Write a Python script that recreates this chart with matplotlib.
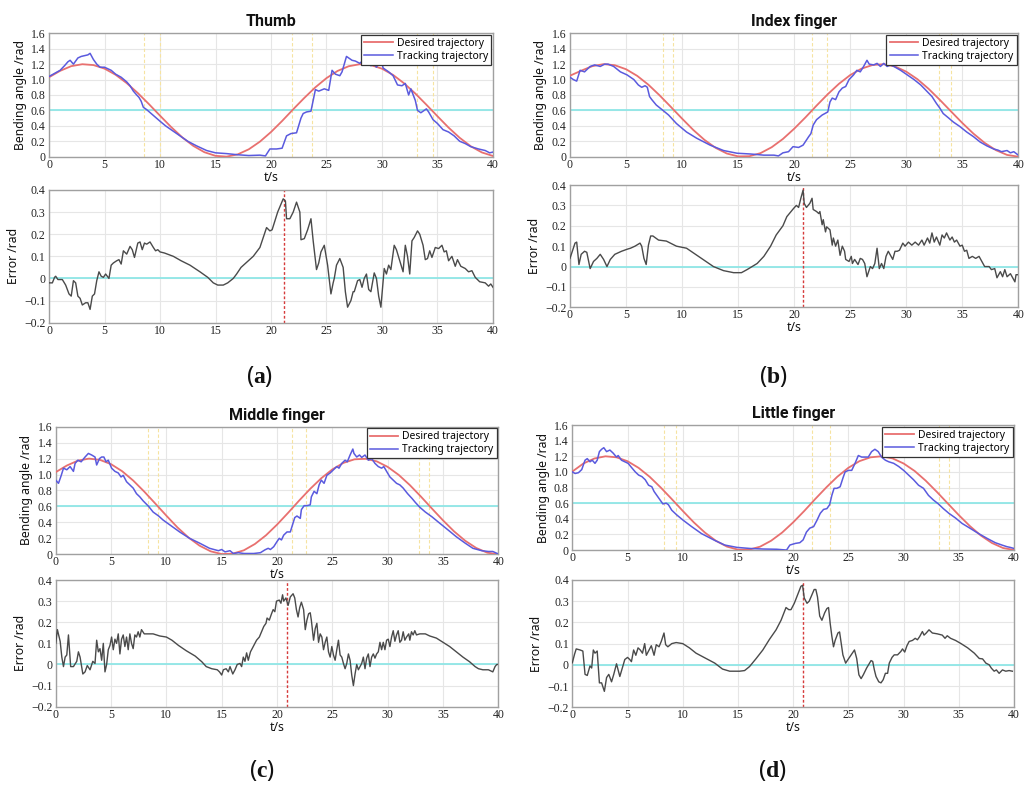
import numpy as np
import matplotlib
matplotlib.use("Agg")
import matplotlib.pyplot as plt

plt.rcParams['font.family'] = ['Noto Sans', 'DejaVu Sans']
plt.rcParams['mathtext.fontset'] = 'custom'
plt.rcParams['mathtext.rm'] = 'Liberation Serif'
plt.rcParams['mathtext.bf'] = 'Liberation Serif:bold'
plt.rcParams['axes.unicode_minus'] = True

# ---------------------------------------------------------------- data
t_des = list(range(41))

des_thumb = [1.030, 1.113, 1.174, 1.199, 1.188, 1.142, 1.062, 0.954, 0.825, 0.682,
             0.532, 0.385, 0.251, 0.140, 0.058, 0.011, 0.001, 0.030, 0.096, 0.195,
             0.320, 0.463, 0.615, 0.762, 0.900, 1.019, 1.112, 1.173, 1.199, 1.188,
             1.141, 1.060, 0.950, 0.819, 0.674, 0.524, 0.377, 0.245, 0.135, 0.055,
             0.009]
des_index = [1.050, 1.115, 1.174, 1.200, 1.186, 1.134, 1.048, 0.933, 0.795, 0.646,
             0.494, 0.347, 0.218, 0.114, 0.041, 0.004, 0.006, 0.046, 0.123, 0.230,
             0.362, 0.508, 0.662, 0.810, 0.945, 1.058, 1.141, 1.189, 1.199, 1.170,
             1.103, 1.005, 0.880, 0.737, 0.587, 0.438, 0.299, 0.179, 0.085, 0.023,
             0.000]
des_middle = [1.030, 1.113, 1.174, 1.200, 1.184, 1.130, 1.042, 0.925, 0.786, 0.636,
              0.484, 0.337, 0.210, 0.108, 0.037, 0.003, 0.008, 0.050, 0.129, 0.238,
              0.372, 0.520, 0.674, 0.821, 0.954, 1.065, 1.146, 1.191, 1.198, 1.166,
              1.096, 0.995, 0.868, 0.724, 0.573, 0.425, 0.287, 0.170, 0.079, 0.020,
              0.000]
des_little = [1.005, 1.108, 1.172, 1.200, 1.187, 1.137, 1.052, 0.938, 0.801, 0.653,
              0.501, 0.354, 0.224, 0.118, 0.044, 0.005, 0.005, 0.043, 0.119, 0.224,
              0.355, 0.500, 0.654, 0.802, 0.939, 1.053, 1.138, 1.187, 1.200, 1.173,
              1.108, 1.012, 0.888, 0.746, 0.596, 0.447, 0.307, 0.185, 0.090, 0.026,
              0.001]

thumb_track = [(0, 1.04), (0.5, 1.08), (1.0, 1.12), (1.4, 1.18), (1.7, 1.23), (1.9, 1.25),
               (2.2, 1.20), (2.6, 1.28), (2.9, 1.30), (3.2, 1.31), (3.5, 1.32), (3.7, 1.34),
               (4.0, 1.26), (4.3, 1.20), (4.6, 1.16), (5.0, 1.16), (5.3, 1.14), (5.6, 1.12),
               (6.0, 1.07), (6.5, 1.03), (7.0, 0.97), (7.3, 0.92), (7.6, 0.85), (7.9, 0.80),
               (8.1, 0.77), (8.3, 0.72), (8.5, 0.64), (8.8, 0.61), (9.2, 0.56), (9.6, 0.51),
               (10.0, 0.46), (10.5, 0.40), (11.2, 0.33), (11.8, 0.27), (12.5, 0.20),
               (13.3, 0.14), (14.2, 0.08), (15.0, 0.05), (16.0, 0.04), (17.0, 0.025),
               (18.0, 0.015), (19.0, 0.02), (19.5, 0.01), (19.9, 0.10), (20.5, 0.10),
               (21.0, 0.11), (21.4, 0.27), (21.8, 0.30), (22.3, 0.31), (22.7, 0.50),
               (22.9, 0.56), (23.2, 0.58), (23.6, 0.59), (24.0, 0.87), (24.3, 0.85),
               (24.8, 0.88), (25.2, 0.86), (25.5, 1.12), (25.8, 1.07), (26.2, 1.05),
               (26.4, 1.10), (26.8, 1.30), (27.3, 1.25), (27.6, 1.24), (28.0, 1.21),
               (28.3, 1.25), (28.7, 1.20), (29.0, 1.18), (29.3, 1.20), (29.5, 1.16),
               (29.9, 1.27), (30.1, 1.15), (30.6, 1.10), (31.0, 1.05), (31.4, 0.93),
               (31.8, 0.92), (32.1, 0.95), (32.4, 0.80), (32.6, 0.88), (33.0, 0.73),
               (33.2, 0.60), (33.5, 0.57), (34.0, 0.62), (34.2, 0.58), (34.6, 0.48),
               (35.0, 0.43), (35.5, 0.35), (36.0, 0.32), (36.5, 0.27), (37.0, 0.20),
               (37.5, 0.17), (38.0, 0.13), (38.7, 0.10), (39.3, 0.08), (39.7, 0.05),
               (40.0, 0.06)]

thumb_err = [(0, -0.02), (0.3, -0.02), (0.5, 0.005), (0.6, 0.01), (0.8, -0.005), (1.2, -0.005),
             (1.5, -0.03), (1.8, -0.07), (2.0, -0.08), (2.2, -0.01), (2.4, -0.02), (2.6, -0.08),
             (2.8, -0.09), (3.0, -0.12), (3.3, -0.11), (3.5, -0.11), (3.7, -0.14), (3.9, -0.08),
             (4.1, -0.07), (4.3, -0.01), (4.5, 0.03), (4.7, 0.01), (4.9, 0.005), (5.1, 0.02),
             (5.4, 0.0), (5.6, 0.06), (5.8, 0.07), (6.1, 0.08), (6.3, 0.085), (6.5, 0.065),
             (6.7, 0.125), (7.0, 0.11), (7.3, 0.145), (7.5, 0.13), (7.7, 0.095), (8.0, 0.16),
             (8.2, 0.165), (8.4, 0.13), (8.6, 0.16), (8.8, 0.155), (9.1, 0.165), (9.4, 0.14),
             (9.6, 0.125), (9.8, 0.13), (10.0, 0.12), (10.4, 0.115), (11.2, 0.10), (11.9, 0.08),
             (12.7, 0.06), (13.6, 0.03), (14.3, 0.005), (14.8, -0.02), (15.2, -0.03),
             (15.7, -0.03), (16.1, -0.02), (16.6, 0.0), (16.9, 0.02), (17.3, 0.05), (18.4, 0.10),
             (19.0, 0.14), (19.4, 0.20), (19.6, 0.23), (19.9, 0.215), (20.1, 0.22), (20.6, 0.30),
             (21.1, 0.36), (21.3, 0.35), (21.4, 0.27), (21.7, 0.27), (22.0, 0.30), (22.3, 0.345),
             (22.6, 0.30), (22.7, 0.175), (23.0, 0.18), (23.3, 0.22), (23.6, 0.27), (23.8, 0.17),
             (24.1, 0.04), (24.3, 0.07), (24.5, 0.12), (24.8, 0.15), (25.1, 0.06), (25.4, -0.07),
             (25.6, -0.02), (25.7, 0.0), (25.9, 0.06), (26.2, 0.09), (26.5, 0.05), (26.7, -0.06),
             (26.9, -0.13), (27.2, -0.10), (27.4, -0.06), (27.5, -0.06), (27.8, -0.01),
             (28.0, -0.005), (28.2, -0.04), (28.4, 0.0), (28.6, 0.02), (28.8, -0.05),
             (29.0, -0.06), (29.3, 0.025), (29.5, 0.0), (29.7, -0.08), (29.9, -0.13),
             (30.2, 0.045), (30.4, 0.02), (30.6, 0.06), (30.8, 0.04), (31.1, 0.15), (31.3, 0.13),
             (31.6, 0.08), (31.9, 0.03), (32.1, 0.15), (32.3, 0.10), (32.5, 0.02), (32.7, 0.17),
             (32.9, 0.185), (33.2, 0.215), (33.4, 0.20), (33.7, 0.15), (33.9, 0.085),
             (34.1, 0.09), (34.3, 0.125), (34.5, 0.095), (34.8, 0.14), (35.1, 0.135),
             (35.4, 0.15), (35.6, 0.12), (35.8, 0.125), (36.0, 0.08), (36.3, 0.10),
             (36.6, 0.055), (36.8, 0.085), (37.1, 0.055), (37.5, 0.045), (37.8, 0.03),
             (38.1, 0.035), (38.4, 0.005), (38.8, -0.015), (39.3, -0.02), (39.6, -0.035),
             (39.8, -0.025), (40.0, -0.04)]

index_track = [(0, 1.03), (0.3, 1.00), (0.6, 0.98), (0.9, 1.12), (1.3, 1.10), (1.8, 1.17),
               (2.2, 1.19), (2.7, 1.17), (3.1, 1.20), (3.4, 1.20), (3.9, 1.17), (4.5, 1.10),
               (5.1, 1.06), (5.7, 1.00), (6.1, 0.93), (6.4, 0.90), (6.7, 0.92), (6.9, 0.90),
               (7.1, 0.78), (7.3, 0.74), (7.7, 0.67), (8.3, 0.60), (8.8, 0.54), (9.5, 0.43),
               (10.4, 0.32), (11.3, 0.24), (12.5, 0.15), (13.7, 0.08), (14.9, 0.045),
               (16.1, 0.035), (17.3, 0.02), (18.2, 0.02), (18.6, 0.01), (19.0, 0.05),
               (19.5, 0.065), (19.9, 0.13), (20.4, 0.12), (20.8, 0.15), (21.3, 0.26),
               (21.5, 0.30), (21.7, 0.41), (22.0, 0.48), (22.5, 0.54), (23.0, 0.58),
               (23.2, 0.71), (23.4, 0.76), (23.7, 0.74), (24.0, 0.84), (24.3, 0.89),
               (24.6, 0.91), (24.9, 1.00), (25.3, 1.06), (25.6, 1.12), (25.9, 1.10),
               (26.2, 1.17), (26.5, 1.25), (26.7, 1.20), (27.1, 1.19), (27.4, 1.21),
               (27.7, 1.17), (28.0, 1.21), (28.3, 1.17), (28.6, 1.19), (28.9, 1.17),
               (29.5, 1.12), (30.1, 1.06), (30.7, 1.00), (31.3, 0.93), (31.9, 0.84),
               (32.3, 0.78), (32.7, 0.69), (33.0, 0.63), (33.3, 0.56), (33.8, 0.50),
               (34.2, 0.45), (34.8, 0.39), (35.4, 0.32), (36.0, 0.26), (36.6, 0.19),
               (37.2, 0.14), (37.8, 0.10), (38.2, 0.085), (38.5, 0.065), (39.0, 0.08),
               (39.3, 0.05), (39.6, 0.065), (40.0, 0.02)]

index_err = [(0, 0.04), (0.45, 0.115), (0.6, 0.12), (0.8, 0.01), (1.0, 0.06), (1.3, 0.075),
             (1.5, 0.07), (1.8, -0.01), (2.1, 0.025), (2.4, 0.04), (2.7, 0.06), (3.0, 0.035),
             (3.3, 0.0), (3.6, 0.035), (4.0, 0.06), (4.6, 0.075), (5.1, 0.085), (5.4, 0.09),
             (5.8, 0.10), (6.25, 0.115), (6.4, 0.10), (6.6, 0.04), (6.8, 0.01), (7.0, 0.105),
             (7.2, 0.15), (7.4, 0.15), (7.9, 0.13), (8.6, 0.125), (9.5, 0.10), (10.4, 0.09),
             (11.6, 0.045), (12.8, 0.0), (13.7, -0.02), (14.6, -0.03), (15.3, -0.03),
             (15.8, -0.015), (16.7, 0.015), (17.3, 0.05), (17.9, 0.10), (18.4, 0.155),
             (19.0, 0.20), (19.35, 0.245), (19.95, 0.285), (20.2, 0.30), (20.4, 0.29),
             (20.6, 0.335), (20.8, 0.375), (20.9, 0.31), (21.1, 0.29), (21.4, 0.31),
             (21.6, 0.335), (21.7, 0.28), (22.0, 0.27), (22.2, 0.26), (22.3, 0.27),
             (22.5, 0.205), (22.6, 0.23), (22.8, 0.17), (22.9, 0.195), (23.2, 0.18),
             (23.4, 0.105), (23.5, 0.14), (23.7, 0.10), (23.9, 0.13), (24.1, 0.055),
             (24.3, 0.10), (24.5, 0.075), (24.6, 0.035), (24.9, 0.025), (25.1, 0.05),
             (25.2, 0.015), (25.4, 0.035), (25.7, 0.01), (25.9, 0.04), (26.1, 0.035),
             (26.3, 0.015), (26.5, -0.05), (26.8, 0.0), (27.0, -0.01), (27.2, 0.015),
             (27.4, 0.09), (27.6, -0.01), (27.8, 0.015), (28.0, -0.01), (28.2, 0.05),
             (28.4, 0.075), (28.6, 0.055), (28.8, 0.035), (29.0, 0.075), (29.2, 0.075),
             (29.4, 0.08), (29.7, 0.115), (29.9, 0.10), (30.2, 0.12), (30.5, 0.105),
             (30.8, 0.12), (31.1, 0.105), (31.4, 0.13), (31.6, 0.105), (31.9, 0.14),
             (32.1, 0.115), (32.3, 0.165), (32.5, 0.12), (32.7, 0.145), (33.0, 0.105),
             (33.2, 0.155), (33.4, 0.14), (33.6, 0.165), (33.9, 0.13), (34.1, 0.145),
             (34.3, 0.12), (34.5, 0.13), (34.8, 0.10), (35.0, 0.105), (35.2, 0.075),
             (35.4, 0.08), (35.6, 0.04), (35.9, 0.05), (36.2, 0.04), (36.5, 0.05),
             (36.8, 0.02), (37.0, 0.0), (37.4, 0.0), (37.6, -0.015), (37.9, -0.01),
             (38.1, -0.055), (38.4, -0.025), (38.6, -0.05), (38.8, -0.015), (39.0, -0.05),
             (39.3, -0.035), (39.5, -0.055), (39.7, -0.075), (39.8, -0.04), (40.0, -0.04)]

middle_track = [(0, 0.93), (0.25, 0.89), (0.5, 0.99), (0.7, 1.08), (1.0, 1.06), (1.3, 1.10),
                (1.6, 1.04), (1.75, 1.14), (2.0, 1.18), (2.3, 1.16), (2.65, 1.22), (2.95, 1.265),
                (3.25, 1.245), (3.55, 1.22), (3.7, 1.12), (3.95, 1.20), (4.15, 1.22),
                (4.35, 1.22), (4.55, 1.16), (4.75, 1.18), (5.05, 1.08), (5.35, 1.04),
                (5.65, 1.02), (5.9, 0.97), (6.1, 0.99), (6.4, 0.91), (6.7, 0.87), (7.0, 0.83),
                (7.3, 0.76), (7.6, 0.72), (7.9, 0.67), (8.4, 0.60), (8.8, 0.53), (9.3, 0.48),
                (9.7, 0.43), (10.3, 0.37), (11.2, 0.28), (12.1, 0.20), (13.0, 0.14),
                (13.9, 0.075), (14.7, 0.045), (15.0, 0.06), (15.3, 0.03), (15.75, 0.045),
                (16.05, 0.01), (16.5, 0.02), (17.0, 0.01), (17.9, 0.01), (18.5, 0.02),
                (18.9, 0.055), (19.2, 0.075), (19.4, 0.06), (19.7, 0.095), (20.0, 0.16),
                (20.2, 0.20), (20.4, 0.18), (20.6, 0.24), (20.9, 0.28), (21.2, 0.28),
                (21.4, 0.37), (21.6, 0.46), (21.8, 0.48), (22.1, 0.45), (22.2, 0.56),
                (22.45, 0.61), (22.7, 0.61), (23.0, 0.62), (23.1, 0.72), (23.35, 0.79),
                (23.6, 0.76), (23.8, 0.87), (24.0, 0.93), (24.25, 0.89), (24.5, 0.99),
                (24.8, 1.02), (25.1, 1.06), (25.4, 1.10), (25.6, 1.08), (25.85, 1.14),
                (26.15, 1.18), (26.35, 1.16), (26.6, 1.245), (26.85, 1.32), (26.95, 1.265),
                (27.2, 1.22), (27.45, 1.245), (27.65, 1.215), (27.95, 1.245), (28.25, 1.18),
                (28.55, 1.20), (28.85, 1.14), (29.15, 1.10), (29.45, 1.08), (29.65, 1.10),
                (29.9, 1.04), (30.2, 0.97), (30.5, 0.93), (30.8, 0.89), (31.1, 0.87),
                (31.4, 0.83), (31.8, 0.76), (32.2, 0.70), (32.5, 0.65), (32.9, 0.59),
                (33.4, 0.53), (34.0, 0.47), (34.7, 0.39), (35.5, 0.30), (36.2, 0.22),
                (37.0, 0.14), (37.7, 0.075), (38.5, 0.045), (39.1, 0.035), (39.5, 0.035),
                (39.9, 0.01), (40.0, 0.005)]

middle_err = [(0, 0.10), (0.15, 0.165), (0.4, 0.11), (0.55, 0.035), (0.7, -0.01), (0.85, 0.035),
              (1.0, 0.045), (1.15, 0.14), (1.35, -0.01), (1.6, -0.01), (1.9, 0.015),
              (2.05, 0.06), (2.2, 0.035), (2.45, -0.045), (2.65, -0.035), (2.85, -0.005),
              (3.1, -0.025), (3.35, 0.015), (3.55, 0.005), (3.7, 0.115), (3.85, 0.06),
              (4.0, 0.075), (4.15, 0.02), (4.3, 0.10), (4.45, -0.035), (4.6, 0.0), (4.75, 0.07),
              (4.9, 0.09), (5.05, 0.13), (5.2, 0.07), (5.35, 0.12), (5.5, 0.10), (5.65, 0.145),
              (5.8, 0.05), (5.95, 0.12), (6.1, 0.14), (6.25, 0.085), (6.4, 0.13), (6.55, 0.07),
              (6.7, 0.145), (6.85, 0.10), (7.0, 0.075), (7.15, 0.14), (7.3, 0.13),
              (7.45, 0.155), (7.6, 0.13), (7.75, 0.165), (8.0, 0.145), (8.4, 0.145),
              (8.8, 0.145), (9.4, 0.135), (10.0, 0.13), (10.5, 0.115), (11.1, 0.09),
              (11.8, 0.065), (12.6, 0.04), (13.2, 0.013), (13.6, -0.01), (14.1, -0.02),
              (14.6, -0.025), (14.8, -0.035), (15.0, -0.05), (15.15, -0.025), (15.4, -0.02),
              (15.6, -0.035), (15.75, -0.01), (16.0, -0.045), (16.2, -0.025), (16.4, 0.0),
              (16.65, 0.005), (16.8, -0.01), (16.95, 0.035), (17.1, 0.015), (17.25, 0.055),
              (17.4, 0.02), (17.6, 0.06), (17.85, 0.085), (18.15, 0.115), (18.4, 0.13),
              (18.6, 0.155), (18.8, 0.18), (19.0, 0.195), (19.1, 0.22), (19.3, 0.21),
              (19.5, 0.24), (19.65, 0.26), (19.8, 0.25), (19.95, 0.30), (20.2, 0.305),
              (20.35, 0.29), (20.5, 0.33), (20.6, 0.30), (20.8, 0.315), (21.0, 0.28),
              (21.2, 0.32), (21.45, 0.335), (21.6, 0.315), (21.75, 0.26), (21.9, 0.225),
              (22.05, 0.27), (22.2, 0.295), (22.4, 0.26), (22.55, 0.165), (22.7, 0.21),
              (22.85, 0.24), (23.0, 0.245), (23.1, 0.21), (23.3, 0.115), (23.45, 0.17),
              (23.6, 0.195), (23.75, 0.105), (23.9, 0.145), (24.05, 0.13), (24.2, 0.07),
              (24.35, 0.105), (24.5, 0.13), (24.65, 0.06), (24.8, 0.035), (24.95, 0.085),
              (25.1, 0.045), (25.25, 0.02), (25.4, 0.07), (25.55, 0.115), (25.7, 0.045),
              (25.85, 0.035), (26.0, 0.005), (26.15, -0.02), (26.3, 0.005), (26.45, 0.05),
              (26.6, 0.02), (26.75, -0.05), (26.9, -0.10), (27.05, -0.045), (27.2, 0.0),
              (27.35, -0.025), (27.5, -0.01), (27.65, 0.005), (27.8, 0.035), (27.95, -0.02),
              (28.1, 0.03), (28.25, 0.05), (28.4, -0.01), (28.55, 0.035), (28.7, 0.05),
              (28.85, 0.03), (29.0, 0.05), (29.15, 0.06), (29.3, 0.105), (29.45, 0.07),
              (29.6, 0.105), (29.75, 0.07), (29.9, 0.115), (30.05, 0.12), (30.2, 0.085),
              (30.35, 0.13), (30.5, 0.16), (30.65, 0.11), (30.8, 0.14), (30.95, 0.16),
              (31.1, 0.105), (31.25, 0.115), (31.4, 0.155), (31.55, 0.115), (31.7, 0.13),
              (31.9, 0.145), (32.0, 0.115), (32.15, 0.155), (32.3, 0.14), (32.45, 0.16),
              (32.6, 0.14), (32.9, 0.145), (33.4, 0.145), (33.8, 0.135), (34.4, 0.125),
              (35.0, 0.105), (35.6, 0.085), (36.2, 0.06), (36.8, 0.035), (37.4, 0.013),
              (37.9, -0.01), (38.2, -0.02), (38.6, -0.025), (39.1, -0.025), (39.5, -0.035),
              (39.7, -0.01), (39.85, 0.0), (40.0, 0.0)]

little_track = [(0, 1.00), (0.25, 0.98), (0.55, 0.99), (0.85, 1.03), (1.15, 1.15), (1.35, 1.17),
                (1.6, 1.13), (1.8, 1.15), (2.05, 1.11), (2.25, 1.15), (2.45, 1.26), (2.65, 1.29),
                (2.85, 1.31), (3.1, 1.26), (3.4, 1.28), (3.7, 1.24), (4.0, 1.19), (4.15, 1.21),
                (4.45, 1.15), (4.75, 1.13), (5.05, 1.11), (5.4, 1.05), (5.7, 1.00), (6.0, 0.96),
                (6.3, 0.94), (6.6, 0.90), (6.9, 0.83), (7.2, 0.81), (7.4, 0.75), (7.65, 0.70),
                (7.95, 0.64), (8.2, 0.59), (8.5, 0.60), (8.7, 0.58), (9.0, 0.51), (9.45, 0.45),
                (10.05, 0.38), (10.8, 0.30), (11.7, 0.21), (12.8, 0.13), (13.8, 0.064),
                (14.9, 0.034), (16.1, 0.02), (17.3, 0.013), (18.5, 0.01), (19.4, 0.0),
                (19.7, 0.064), (20.2, 0.085), (20.6, 0.094), (20.9, 0.13), (21.2, 0.23),
                (21.5, 0.28), (21.85, 0.30), (22.15, 0.38), (22.45, 0.47), (22.75, 0.52),
                (23.05, 0.53), (23.3, 0.58), (23.5, 0.70), (23.7, 0.79), (23.95, 0.79),
                (24.25, 0.81), (24.5, 0.92), (24.7, 1.00), (25.0, 1.02), (25.3, 1.02),
                (25.6, 1.11), (25.9, 1.21), (26.2, 1.19), (26.5, 1.19), (26.8, 1.19),
                (27.1, 1.26), (27.4, 1.29), (27.7, 1.26), (28.0, 1.19), (28.35, 1.15),
                (28.65, 1.13), (29.1, 1.11), (29.55, 1.07), (30.0, 1.02), (30.45, 0.96),
                (30.9, 0.90), (31.35, 0.83), (31.8, 0.79), (32.25, 0.70), (32.7, 0.64),
                (33.15, 0.59), (33.6, 0.53), (34.1, 0.47), (34.7, 0.41), (35.3, 0.34),
                (36.0, 0.28), (36.8, 0.21), (37.55, 0.15), (38.3, 0.094), (38.9, 0.064),
                (39.35, 0.043), (39.65, 0.034), (40.0, 0.02)]

little_err = [(0, 0.01), (0.2, 0.05), (0.35, 0.075), (0.7, 0.07), (0.95, 0.065), (1.15, -0.045),
              (1.35, -0.05), (1.6, -0.005), (1.75, -0.015), (1.9, 0.07), (2.05, 0.055),
              (2.25, 0.065), (2.45, -0.085), (2.65, -0.085), (2.9, -0.125), (3.1, -0.06),
              (3.3, -0.045), (3.55, -0.08), (3.75, -0.045), (4.0, 0.005), (4.15, -0.025),
              (4.3, -0.055), (4.55, -0.01), (4.75, 0.025), (5.0, 0.035), (5.2, 0.025),
              (5.35, 0.015), (5.55, 0.07), (5.75, 0.045), (5.95, 0.08), (6.15, 0.07),
              (6.35, 0.055), (6.55, 0.10), (6.7, 0.045), (6.95, 0.07), (7.15, 0.09),
              (7.4, 0.045), (7.6, 0.095), (7.85, 0.085), (8.05, 0.11), (8.3, 0.15),
              (8.45, 0.095), (8.65, 0.085), (9.0, 0.10), (9.4, 0.105), (10.0, 0.10),
              (10.6, 0.08), (11.2, 0.055), (12.1, 0.03), (12.9, 0.008), (13.6, -0.02),
              (14.25, -0.03), (15.15, -0.03), (15.6, -0.027), (16.05, -0.008), (16.65, 0.03),
              (17.25, 0.07), (17.85, 0.12), (18.45, 0.165), (18.9, 0.21), (19.35, 0.27),
              (19.6, 0.26), (19.8, 0.26), (20.1, 0.29), (20.4, 0.33), (20.7, 0.37),
              (20.85, 0.375), (21.0, 0.315), (21.25, 0.29), (21.45, 0.30), (21.7, 0.33),
              (21.9, 0.355), (22.05, 0.355), (22.2, 0.32), (22.4, 0.23), (22.6, 0.21),
              (22.85, 0.245), (23.05, 0.265), (23.2, 0.27), (23.35, 0.195), (23.5, 0.135),
              (23.65, 0.085), (23.8, 0.115), (24.05, 0.15), (24.2, 0.155), (24.35, 0.10),
              (24.5, 0.047), (24.75, 0.008), (24.95, 0.024), (25.25, 0.047), (25.55, 0.07),
              (25.75, 0.03), (25.95, -0.047), (26.15, -0.065), (26.35, -0.047),
              (26.65, -0.015), (27.05, 0.02), (27.2, 0.016), (27.35, -0.024), (27.5, -0.055),
              (27.75, -0.08), (27.95, -0.085), (28.15, -0.07), (28.35, -0.04), (28.55, -0.04),
              (28.7, 0.008), (28.95, 0.035), (29.15, 0.047), (29.45, 0.047), (29.75, 0.063),
              (29.9, 0.075), (30.1, 0.06), (30.3, 0.09), (30.5, 0.11), (30.8, 0.115),
              (31.05, 0.125), (31.25, 0.118), (31.45, 0.133), (31.7, 0.157), (31.85, 0.14),
              (32.05, 0.15), (32.3, 0.165), (32.6, 0.15), (33.05, 0.146), (33.5, 0.14),
              (33.75, 0.125), (33.95, 0.137), (34.25, 0.125), (34.7, 0.115), (35.2, 0.10),
              (35.8, 0.08), (36.4, 0.055), (36.85, 0.03), (37.15, 0.028), (37.45, 0.008),
              (37.75, 0.0), (37.95, -0.016), (38.2, -0.03), (38.4, -0.024), (38.65, -0.04),
              (38.95, -0.024), (39.25, -0.03), (39.55, -0.027), (39.85, -0.03)]

# crossing instants of the 0.6 rad threshold (tracking / desired)
cross_thumb = [8.54, 10.04, 21.92, 23.72, 33.14, 34.64]
cross_index = [8.27, 9.20, 21.56, 22.96, 32.92, 33.96]
cross_middle = [8.31, 9.28, 21.39, 22.62, 32.83, 33.73]
cross_little = [8.34, 9.37, 21.69, 23.35, 33.17, 34.08]

# instant of the maximum tracking error
peak_thumb, peak_index, peak_middle, peak_little = 21.14, 20.83, 20.87, 20.87

angle_ticks = [0, 0.2, 0.4, 0.6, 0.8, 1.0, 1.2, 1.4, 1.6]
angle_labels = ['0', '0.2', '0.4', '0.6', '0.8', '1.0', '1.2', '1.4', '1.6']
err_ticks = [-0.2, -0.1, 0, 0.1, 0.2, 0.3, 0.4]
err_labels = ['\u22120.2', '\u22120.1', '0', '0.1', '0.2', '0.3', '0.4']
time_ticks = [0, 5, 10, 15, 20, 25, 30, 35, 40]

# ---------------------------------------------------------------- style
C_DES = '#e8706f'
C_TRK = '#5a5ade'
C_ERR = '#4a4a4a'
C_CYAN = '#8fe6e6'
C_YEL = '#f6e3a0'
C_PEAK = '#d63b3b'
C_GRID = '#e6e6e6'
C_SPINE = '#a0a0a0'
SERIF = 'Liberation Serif'
TITLE_FONT = ['Roboto', 'DejaVu Sans']


def style_axes(ax, yticks, ylabels, ylim, ylabel, xlabel):
    ax.set_xlim(0, 40)
    ax.set_ylim(*ylim)
    ax.set_xticks(time_ticks)
    ax.set_xticklabels([str(v) for v in time_ticks], fontfamily=SERIF, fontsize=8.5)
    ax.set_yticks(yticks)
    ax.set_yticklabels(ylabels, fontfamily=SERIF, fontsize=8.5)
    ax.tick_params(axis='both', length=0, pad=2.5, colors='#222222')
    ax.tick_params(axis='x', pad=1.5)
    ax.grid(True, color=C_GRID, lw=0.8)
    ax.set_axisbelow(True)
    for s in ax.spines.values():
        s.set_color(C_SPINE)
        s.set_linewidth(1.0)
    ax.set_ylabel(ylabel, fontsize=8.8, labelpad=3, color='#111111')
    if xlabel:
        ax.set_xlabel('t/s', fontsize=8.8, labelpad=0, color='#111111')


def draw_finger(fig, pos_top, pos_bot, title, des, track, err, cross, peak, bottom_xlabel):
    ax1 = fig.add_axes(pos_top)
    ax2 = fig.add_axes(pos_bot)

    tr = np.array(track).T
    er = np.array(err).T

    ax1.axhline(0.6, color=C_CYAN, lw=1.3, zorder=1.5)
    for x in cross:
        ax1.axvline(x, color=C_YEL, lw=0.8, ls=(0, (3, 2)), zorder=1.6)
    ax1.plot(t_des, des, color=C_DES, lw=1.3, label='Desired trajectory', zorder=3)
    ax1.plot(tr[0], tr[1], color=C_TRK, lw=1.1, label='Tracking trajectory', zorder=4)
    style_axes(ax1, angle_ticks, angle_labels, (0, 1.6), 'Bending angle /rad', True)
    ax1.set_title(title, fontsize=11.5, fontweight='bold', family=TITLE_FONT,
                  pad=5, color='#111111')
    leg = ax1.legend(loc='upper right', fontsize=7.4, frameon=True, fancybox=False,
                     edgecolor='#333333', framealpha=1, borderaxespad=0.15,
                     handlelength=2.8, handletextpad=0.4, borderpad=0.3,
                     labelspacing=0.2)
    leg.get_frame().set_linewidth(0.9)

    ax2.axhline(0.0, color=C_CYAN, lw=1.3, zorder=1.5)
    ax2.axvline(peak, color=C_PEAK, lw=1.0, ls=(0, (2, 1.5)), zorder=1.6)
    ax2.plot(er[0], er[1], color=C_ERR, lw=1.0, zorder=3)
    style_axes(ax2, err_ticks, err_labels, (-0.2, 0.4), 'Error /rad', bottom_xlabel)
    return ax1, ax2


fig = plt.figure(figsize=(10.32, 7.87), dpi=100)

draw_finger(fig, [0.0475, 0.8009, 0.4302, 0.1568], [0.0475, 0.5900, 0.4302, 0.1686],
            'Thumb', des_thumb, thumb_track, thumb_err, cross_thumb, peak_thumb, False)
draw_finger(fig, [0.5523, 0.8009, 0.4344, 0.1568], [0.5523, 0.6095, 0.4344, 0.1554],
            'Index finger', des_index, index_track, index_err, cross_index, peak_index, True)
draw_finger(fig, [0.0540, 0.2957, 0.4289, 0.1621], [0.0540, 0.1020, 0.4289, 0.1610],
            'Middle finger', des_middle, middle_track, middle_err, cross_middle, peak_middle, True)
draw_finger(fig, [0.5546, 0.3011, 0.4280, 0.1588], [0.5546, 0.1013, 0.4280, 0.1618],
            'Little finger', des_little, little_track, little_err, cross_little, peak_little, True)

for x, y, letter in [(0.251, 0.522, 'a'), (0.749, 0.522, 'b'),
                     (0.254, 0.0216, 'c'), (0.748, 0.0216, 'd')]:
    fig.text(x, y, r'($\mathbf{%s}$)' % letter, fontsize=17, ha='center', va='center',
             color='#111111')

fig.savefig('out.png', dpi=100, facecolor='white')
